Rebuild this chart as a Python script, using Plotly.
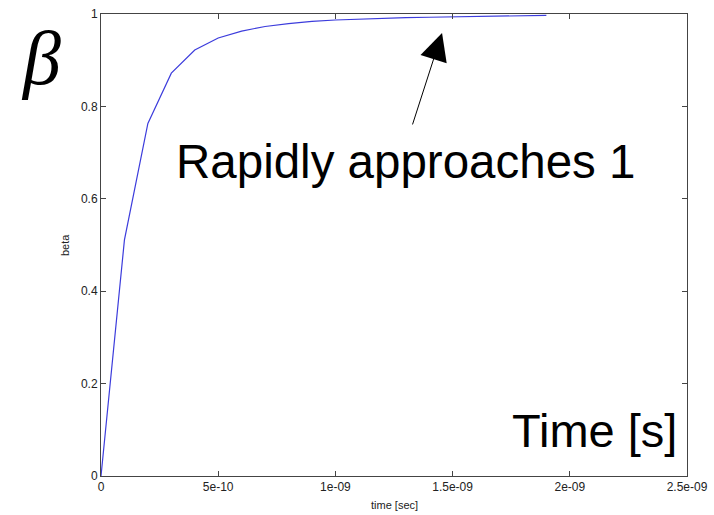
import plotly.graph_objects as go

time_s = [0, 1e-10, 2e-10, 3e-10, 4e-10, 5e-10, 6e-10, 7e-10, 8e-10, 9e-10,
          1.0e-9, 1.1e-9, 1.2e-9, 1.3e-9, 1.4e-9, 1.5e-9, 1.6e-9, 1.7e-9, 1.8e-9, 1.9e-9]
beta = [0.0, 0.511, 0.763, 0.872, 0.922, 0.948, 0.963, 0.973, 0.979, 0.984,
        0.987, 0.989, 0.991, 0.992, 0.993, 0.994, 0.995, 0.996, 0.996, 0.997]

x_tickvals = [0, 5e-10, 1e-9, 1.5e-9, 2e-9, 2.5e-9]
x_ticktext = ["0", "5e-10", "1e-09", "1.5e-09", "2e-09", "2.5e-09"]
y_tickvals = [0, 0.2, 0.4, 0.6, 0.8, 1]
y_ticktext = ["0", "0.2", "0.4", "0.6", "0.8", "1"]

fig = go.Figure()
fig.add_trace(go.Scatter(x=time_s, y=beta, mode="lines",
                         line=dict(color="#3c3cdc", width=1.2), showlegend=False))

axis_common = dict(showline=True, linecolor="#444", linewidth=1, mirror="ticks",
                   ticks="inside", ticklen=5, tickcolor="#444", tickwidth=1,
                   showgrid=False, zeroline=False, automargin=False,
                   tickfont=dict(family="Liberation Sans, Arial, sans-serif", size=12, color="#222"))

fig.update_xaxes(range=[0, 2.5e-9], tickvals=x_tickvals, ticktext=x_ticktext, **axis_common)
fig.update_yaxes(range=[0, 1], tickvals=y_tickvals, ticktext=y_ticktext, **axis_common)

sans = "Liberation Sans, Arial, sans-serif"
fig.update_layout(
    width=714, height=515,
    margin=dict(l=101, r=27, t=14, b=39),
    paper_bgcolor="white", plot_bgcolor="white",
    annotations=[
        dict(text="beta", xref="paper", yref="paper", x=0, y=0.5, xshift=-36,
             textangle=-90, showarrow=False, xanchor="center", yanchor="middle",
             font=dict(family=sans, size=11, color="#222")),
        dict(text="time [sec]", xref="paper", yref="paper", x=0.5, y=0, yshift=-29,
             showarrow=False, xanchor="center", yanchor="middle",
             font=dict(family=sans, size=11, color="#222")),
        dict(text="Rapidly approaches 1", xref="paper", yref="paper", x=0.519, y=0.68,
             showarrow=False, xanchor="center", yanchor="middle",
             font=dict(family=sans, size=47.5, color="black")),
        dict(text="Time [s]", xref="paper", yref="paper", x=0.842, y=0.098,
             showarrow=False, xanchor="center", yanchor="middle",
             font=dict(family=sans, size=47, color="black")),
        dict(text="<i>β</i>", xref="paper", yref="paper", x=-0.1024, y=0.905,
             showarrow=False, xanchor="center", yanchor="middle",
             font=dict(family="Liberation Serif, Times New Roman, serif", size=76, color="black")),
        dict(text="", x=1.455e-9, y=0.959, xref="x", yref="y", ax=-30, ay=93,
             showarrow=True, arrowhead=2, arrowsize=5.5, arrowwidth=1, arrowcolor="black"),
    ],
)

fig.write_html("out.html", config={"displayModeBar": False},
               post_script="document.body.style.margin='0';document.body.style.overflow='hidden';")
